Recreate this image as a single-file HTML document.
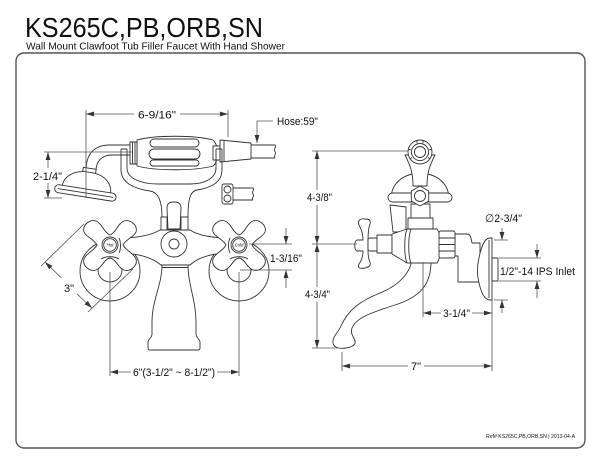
<!DOCTYPE html>
<html>
<head>
<meta charset="utf-8">
<style>
  html,body{margin:0;padding:0;background:#fff;}
  svg{display:block;}
  .t{font-family:"Liberation Sans","DejaVu Sans",sans-serif;fill:#111;}
  .d{stroke:#333;stroke-width:0.9;fill:#fff;stroke-linejoin:round;}
  .n{stroke:#333;stroke-width:0.9;fill:none;stroke-linejoin:round;}
  .m{stroke:#555;stroke-width:0.8;fill:none;}
</style>
</head>
<body>
<svg width="600" height="464" viewBox="0 0 600 464" xmlns="http://www.w3.org/2000/svg">
<defs>
  <marker id="a" viewBox="0 0 8 6" refX="8" refY="3" markerWidth="8" markerHeight="6" markerUnits="userSpaceOnUse" orient="auto-start-reverse">
    <path d="M0,0.6 L8,3 L0,5.4z" fill="#333"/>
  </marker>
</defs>
<rect x="0" y="0" width="600" height="464" fill="#fff"/>

<!-- Frame -->
<rect x="16" y="53" width="569" height="395" rx="8" ry="8" fill="none" stroke="#555" stroke-width="1.4"/>

<!-- Titles -->
<text class="t" x="25" y="37" font-size="28" textLength="238" lengthAdjust="spacingAndGlyphs">KS265C,PB,ORB,SN</text>
<text class="t" x="26" y="49.5" font-size="10.5" textLength="259" lengthAdjust="spacingAndGlyphs">Wall Mount Clawfoot Tub Filler Faucet With Hand Shower</text>

<!-- ================= FRONT VIEW ================= -->
<!-- hose -->
<path class="n" d="M250,145 L275,145 M250,158 L275,158"/>
<path class="n" d="M275,145 c2,2 -2,4 0,6.5 c2,2 -2,4.5 0,6.5"/>
<!-- collar -->
<polygon class="d" points="220,140 251,143 251,159 220,162"/>
<path class="n" d="M224,141 L224,161"/>

<!-- neck tube -->
<path class="d" d="M132,145 L110,145 C95,145 86,153 86,171 L96,171 C96,161 102,155 112,155 L132,155 Z"/>

<!-- shower head -->
<g transform="translate(0,3) rotate(9 86 186)">
  <rect class="d" x="80" y="165" width="13" height="5"/>
  <path class="d" d="M62,187 C62,176 72,170 82,169 L92,169 C102,170 111,176 111,187 Z"/>
  <rect class="d" x="55" y="186" width="62" height="8" rx="4"/>
  <path class="n" d="M58,190 L114,190"/>
</g>

<!-- grip -->
<path class="d" d="M137,140 C155,135 195,135 213,140 C219,145 219,162 213,166 C195,171 155,171 137,166 Z"/>
<rect class="d" x="130" y="142" width="7" height="22"/>
<path class="n" d="M132.5,142 L132.5,164 M135,142 L135,164"/>
<rect class="d" x="213" y="146" width="7" height="14"/>
<rect class="d" x="150" y="139" width="49" height="8" rx="4"/>
<rect class="d" x="149" y="149" width="51" height="10" rx="5"/>
<rect class="d" x="150" y="160" width="49" height="6" rx="3"/>

<!-- cradle -->
<path class="n" d="M121,149 L121,170 C121,183 135,189 150,191 C158,192 162,200 162,217"/>
<path class="n" d="M222,149 L222,170 C222,183 210,188 197,190 C190,191 188,200 188,217"/>
<path class="n" d="M127,149 L127,168 C127,178 140,184 158,184 L190,184 C205,184 216,178 216,168 L216,149"/>
<path class="n" d="M121,149 L127,149 M216,149 L222,149"/>

<!-- clip + pipe -->
<path class="n" d="M233,188 L253,188 M233,200 L253,200"/>
<path class="n" d="M253,188 c2,2 -2,4 0,6 c2,2 -2,4 0,6"/>
<rect class="d" x="222" y="184" width="11" height="20" rx="2"/>
<circle class="d" cx="227.5" cy="189.5" r="3.5"/>
<circle class="d" cx="227.5" cy="198.5" r="3.5"/>

<!-- escutcheons -->
<circle class="d" cx="110" cy="271" r="30"/>
<circle class="d" cx="239" cy="271" r="30"/>

<!-- body -->
<path class="d" d="M118,238 C135,238 150,236 160,230 L190,230 C199,236 214,238 231,238 L231,253 C214,253 200,256 190,265 L161,265 C150,256 135,253 118,253 Z"/>
<!-- column -->
<path class="d" d="M162,265 C162,285 152,300 152,322 L152,334 C152,338 148,339 148,342 L148,348 Q148,350 150,350 L198,350 Q200,350 200,348 L200,342 C200,339 196,338 196,334 L196,322 C196,300 188,285 188,265 Z"/>
<path class="n" d="M162,267.5 L188,267.5"/>
<!-- boss -->
<circle class="d" cx="174" cy="244" r="13"/>
<circle class="d" cx="174" cy="244" r="5"/>
<!-- lever -->
<rect class="d" x="161" y="217" width="6" height="13"/>
<rect class="d" x="181" y="217" width="7" height="13"/>
<path class="d" d="M168,229 L167,208 C167,203 170,202 174,202 C178,202 181,203 181,208 L180,229 Z"/>

<!-- left cross handle -->
<g transform="translate(110,245)">
  <circle class="d" cx="0" cy="25" r="12"/>
  <path class="d" d="M0,-10 C6,-12 8,-22 14,-24 C20,-26 28,-20 26,-13 C24,-8 16,-6 13,0 C16,6 24,8 26,14 C28,21 20,27 14,25 C8,23 6,14 0,13 C-6,14 -8,23 -14,25 C-20,27 -28,21 -26,14 C-24,8 -16,6 -13,0 C-16,-6 -24,-8 -26,-13 C-28,-20 -20,-26 -14,-24 C-8,-22 -6,-12 0,-10 Z"/>
  <path class="n" d="M-9,14 C-5,11 5,11 9,14"/>
  <circle class="d" cx="0" cy="0" r="8"/>
  <circle class="n" cx="0" cy="0" r="6.3"/>
  <text class="t" x="0" y="1.6" font-size="4.5" font-style="italic" text-anchor="middle">Hot</text>
</g>
<!-- right cross handle -->
<g transform="translate(239,245)">
  <circle class="d" cx="0" cy="25" r="12"/>
  <path class="d" d="M0,-10 C6,-12 8,-22 14,-24 C20,-26 28,-20 26,-13 C24,-8 16,-6 13,0 C16,6 24,8 26,14 C28,21 20,27 14,25 C8,23 6,14 0,13 C-6,14 -8,23 -14,25 C-20,27 -28,21 -26,14 C-24,8 -16,6 -13,0 C-16,-6 -24,-8 -26,-13 C-28,-20 -20,-26 -14,-24 C-8,-22 -6,-12 0,-10 Z"/>
  <path class="n" d="M-9,14 C-5,11 5,11 9,14"/>
  <circle class="d" cx="0" cy="0" r="8"/>
  <circle class="n" cx="0" cy="0" r="6.3"/>
  <text class="t" x="0" y="1.6" font-size="4.2" font-style="italic" text-anchor="middle">Cold</text>
</g>
<!-- hub collars -->
<path class="n" d="M119,238 C121,242 121,249 119,253 M230,238 C228,242 228,249 230,253"/>

<!-- ================= SIDE VIEW ================= -->
<!-- spout -->
<path class="d" d="M412,258 C411,272 400,285 380,293 C360,301 348,310 341,326 C338,333 332,337 333,343 C334,348 340,349 346,348 C352,347 356,345 355,341 C354,337 350,334 352,328 C356,318 370,313 395,305 C420,297 432,285 431,258 Z"/>
<!-- dome -->
<path class="d" d="M391,199 C391,185 401,174 420,173 C439,174 449,185 449,199 Z"/>
<rect class="d" x="388" y="193" width="64" height="9" rx="4.5"/>
<!-- arm -->
<path class="d" d="M405,155 C410,165 413,172 413,186 L427,186 C427,172 430,165 435,155 Z"/>
<!-- crown ring -->
<circle class="d" cx="420" cy="152" r="12"/>
<path class="n" d="M417,140 L417,143 M423,140 L423,143 M408.5,149 L411,150 M431.5,149 L429,150 M410,159 L412,157.5 M430,159 L428,157.5"/>
<circle class="d" cx="420" cy="152" r="8.5"/>
<circle class="n" cx="420" cy="152" r="5.5"/>
<!-- stem -->
<rect class="d" x="411" y="204" width="19" height="28"/>
<rect class="d" x="408" y="218" width="25" height="12"/>
<!-- hex -->
<polygon class="d" points="420,186 428.7,191 428.7,201 420,206 411.3,201 411.3,191"/>
<circle class="n" cx="420" cy="196" r="5.5"/>
<!-- lever -->
<polygon class="d" points="390,205 406,207 406,232 393,232"/>

<!-- elbow -->
<path class="d" d="M455,234 L467,234 Q470,234 471,238 L472,243 L480,243 L480,282 L458,282 L458,256 L455,256 Z"/>
<!-- flange -->
<path class="d" d="M490,238 C484,238 481,248 479,258 C477,266 477,275 479,283 C481,292 484,300 490,300 L492,300 L492,238 Z"/>
<path class="n" d="M489,240 L489,298"/>
<rect class="d" x="492" y="258" width="6" height="23"/>

<!-- side cross handle -->
<path class="d" d="M365,219 C360,218 357,221 359,225 C362,230 363,236 363,240 L357,240 C354,241 354,250 357,251 L363,251 C363,256 362,260 359,264 C357,268 360,269 365,268 C369,267 371,266 370,262 C368,258 368,254 368,250 L368,241 C368,236 368,229 370,224 C371,220 369,219 365,219 Z"/>
<rect class="d" x="368" y="238" width="10" height="13" rx="2"/>
<rect class="d" x="377" y="235" width="15" height="18"/>
<path class="d" d="M392,234 L407,229 L407,263 L392,254 Z"/>
<!-- barrel -->
<path class="d" d="M407,229 L437,229 C442,236 442,256 437,263 L407,263 C404,256 404,236 407,229 Z"/>
<path class="n" d="M411,229 C408,236 408,256 411,263"/>
<!-- side hex nut -->
<rect class="d" x="439" y="231" width="16" height="27" rx="2"/>
<path class="n" d="M439,238 L455,238 M439,244.5 L455,244.5 M439,251 L455,251"/>

<!-- ================= DIMENSIONS ================= -->
<g class="m">
  <!-- 6-9/16 -->
  <path d="M86,110 L86,198 M228,110 L228,137"/>
  <path d="M134,114 L86,114" marker-end="url(#a)"/>
  <path d="M180,114 L228,114" marker-end="url(#a)"/>
  <!-- hose leader -->
  <path d="M273,121 L257,121 L257,143" marker-end="url(#a)"/>
  <!-- 2-1/4 -->
  <path d="M44,152 L132,152 M44,198 L62,198"/>
  <path d="M48,168 L48,152" marker-end="url(#a)"/>
  <path d="M48,183 L48,198" marker-end="url(#a)"/>
  <!-- 3" -->
  <path d="M41,266 L84,224 M88,312 L133,269"/>
  <path d="M61.5,278 L45,262" marker-end="url(#a)"/>
  <path d="M77,294 L92,308" marker-end="url(#a)"/>
  <!-- 1-3/16 -->
  <path d="M249,244 L292,244 M240,270 L292,270"/>
  <path d="M286,228 L286,244" marker-end="url(#a)"/>
  <path d="M286,288 L286,270" marker-end="url(#a)"/>
  <!-- 6" -->
  <path d="M110,272 L110,376 M239,272 L239,376"/>
  <path d="M131,372 L110,372" marker-end="url(#a)"/>
  <path d="M217,372 L239,372" marker-end="url(#a)"/>

  <!-- side view -->
  <path d="M312,151 L408,151 M312,244 L357,244 M312,348 L338,348"/>
  <path d="M317,190 L317,151" marker-end="url(#a)"/>
  <path d="M317,205 L317,244" marker-end="url(#a)"/>
  <path d="M317,287 L317,244" marker-end="url(#a)"/>
  <path d="M317,302 L317,348" marker-end="url(#a)"/>
  <!-- 3-1/4 -->
  <path d="M423,262 L423,317 M492,300 L492,371 M342,352 L342,371"/>
  <path d="M441,313 L423,313" marker-end="url(#a)"/>
  <path d="M472,313 L492,313" marker-end="url(#a)"/>
  <!-- 7" -->
  <path d="M408,366 L342,366" marker-end="url(#a)"/>
  <path d="M424,366 L492,366" marker-end="url(#a)"/>
  <!-- dia -->
  <path d="M494,240 L508,240 M494,300 L508,300"/>
  <path d="M502,228 L502,240" marker-end="url(#a)"/>
  <path d="M502,313 L502,300" marker-end="url(#a)"/>
  <!-- IPS -->
  <path d="M499,258 L541,258 M499,281 L541,281"/>
  <path d="M537,244 L537,258" marker-end="url(#a)"/>
  <path d="M537,298 L537,281" marker-end="url(#a)"/>
</g>

<!-- Dimension texts -->
<g class="t" font-size="11">
  <text x="138" y="118.5" textLength="38" lengthAdjust="spacingAndGlyphs">6-9/16"</text>
  <text x="277" y="125" textLength="41" lengthAdjust="spacingAndGlyphs">Hose:59"</text>
  <text x="33" y="180" textLength="29" lengthAdjust="spacingAndGlyphs">2-1/4"</text>
  <text x="64" y="292">3"</text>
  <text x="270" y="262" textLength="32" lengthAdjust="spacingAndGlyphs">1-3/16"</text>
  <text x="133" y="376" textLength="82" lengthAdjust="spacingAndGlyphs">6"(3-1/2" ~ 8-1/2")</text>
  <text x="307" y="201" textLength="25" lengthAdjust="spacingAndGlyphs">4-3/8"</text>
  <text x="305" y="298" textLength="25" lengthAdjust="spacingAndGlyphs">4-3/4"</text>
  <text x="485" y="222" textLength="37" lengthAdjust="spacingAndGlyphs">∅2-3/4"</text>
  <text x="500" y="275" textLength="75" lengthAdjust="spacingAndGlyphs">1/2"-14 IPS Inlet</text>
  <text x="443" y="317" textLength="27" lengthAdjust="spacingAndGlyphs">3-1/4"</text>
  <text x="411" y="370">7"</text>
</g>
<text class="t" x="486" y="438" font-size="5" textLength="89" lengthAdjust="spacingAndGlyphs">Ref# KS265C,PB,ORB,SN | 2013-04-A</text>
</svg>
</body>
</html>
